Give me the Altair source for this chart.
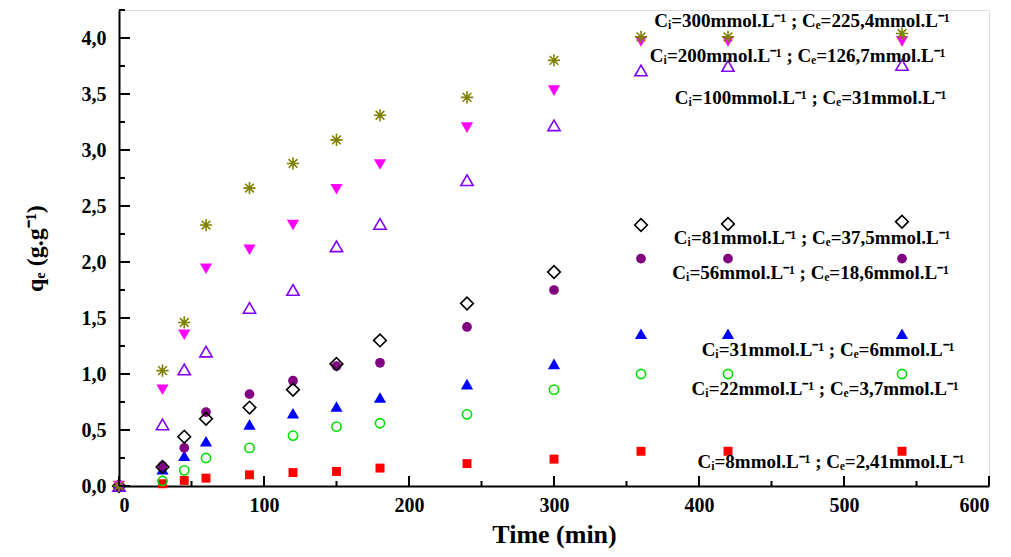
import altair as alt
import pandas as pd

# ---- data ----
time = [0, 30, 45, 60, 90, 120, 150, 180, 240, 300, 360, 420, 540]

q_8 = [0, 0.02, 0.05, 0.07, 0.10, 0.12, 0.13, 0.16, 0.20, 0.24, 0.31, 0.31, 0.31]
q_22 = [0, 0.045, 0.14, 0.25, 0.34, 0.45, 0.53, 0.56, 0.64, 0.86, 1.00, 1.00, 1.00]
q_31 = [0, 0.15, 0.27, 0.40, 0.55, 0.65, 0.71, 0.79, 0.91, 1.09, 1.36, 1.36, 1.36]
q_56 = [0, 0.18, 0.34, 0.66, 0.82, 0.94, 1.07, 1.10, 1.42, 1.75, 2.03, 2.03, 2.03]
q_81 = [0, 0.17, 0.44, 0.60, 0.70, 0.86, 1.09, 1.30, 1.63, 1.91, 2.33, 2.34, 2.36]
q_100 = [0, 0.55, 1.04, 1.20, 1.59, 1.75, 2.14, 2.34, 2.73, 3.22, 3.71, 3.75, 3.76]
q_200 = [0, 0.86, 1.35, 1.94, 2.11, 2.33, 2.65, 2.87, 3.20, 3.53, 3.97, 3.97, 3.97]
q_300 = [0, 1.03, 1.46, 2.33, 2.66, 2.88, 3.09, 3.31, 3.47, 3.80, 4.01, 4.01, 4.04]

labels = [
    "Cᵢ=300mmol.L⁻¹ ; Cₑ=225,4mmol.L⁻¹",
    "Cᵢ=200mmol.L⁻¹ ; Cₑ=126,7mmol.L⁻¹",
    "Cᵢ=100mmol.L⁻¹ ; Cₑ=31mmol.L⁻¹",
    "Cᵢ=81mmol.L⁻¹ ; Cₑ=37,5mmol.L⁻¹",
    "Cᵢ=56mmol.L⁻¹ ; Cₑ=18,6mmol.L⁻¹",
    "Cᵢ=31mmol.L⁻¹ ; Cₑ=6mmol.L⁻¹",
    "Cᵢ=22mmol.L⁻¹ ; Cₑ=3,7mmol.L⁻¹",
    "Cᵢ=8mmol.L⁻¹ ; Cₑ=2,41mmol.L⁻¹",
]
label_t = [471, 468, 477, 478, 477, 489, 487, 491]
label_q = [4.15, 3.84, 3.46, 2.21, 1.90, 1.21, 0.87, 0.21]

x_major = [0, 100, 200, 300, 400, 500, 600]
x_minor = [50, 150, 250, 350, 450, 550]
y_major = [0, 0.5, 1.0, 1.5, 2.0, 2.5, 3.0, 3.5, 4.0]
y_minor = [0.25, 0.75, 1.25, 1.75, 2.25, 2.75, 3.25, 3.75, 4.25]

W, H = 870, 476
FONT = "Liberation Serif"

xs = alt.Scale(domain=[0, 600], nice=False, zero=False)
ys = alt.Scale(domain=[0, 4.25], nice=False, zero=False)

x_axis = alt.Axis(values=x_major, format="d", ticks=False, grid=False,
                  labelFont=FONT, labelFontSize=20, labelFontWeight="bold",
                  labelColor="black", labelPadding=9,
                  domainColor="black", domainWidth=2,
                  title="Time (min)", titleFont=FONT, titleFontSize=26,
                  titleFontWeight="bold", titleColor="black", titlePadding=6)
y_axis = alt.Axis(values=y_major,
                  labelExpr="replace(format(datum.value, '.1f'), '.', ',')",
                  ticks=False, grid=False,
                  labelFont=FONT, labelFontSize=20, labelFontWeight="bold",
                  labelColor="black", labelPadding=13,
                  domainColor="black", domainWidth=2,
                  title="qₑ (g.g⁻¹)", titleFont=FONT, titleFontSize=24,
                  titleFontWeight="bold", titleColor="black", titlePadding=34)

X = alt.X("t:Q", scale=xs, axis=x_axis)
Y = alt.Y("q:Q", scale=ys, axis=y_axis)

asterisk = "M-1,0L1,0M0,-1L0,1M-0.71,-0.71L0.71,0.71M-0.71,0.71L0.71,-0.71"

series = [
    (q_8, dict(shape="square", filled=True, color="#ff0000", size=80)),
    (q_22, dict(shape="circle", filled=False, color="#00e000", size=85, strokeWidth=1.6)),
    (q_31, dict(shape="triangle-up", filled=True, color="#0000ff", size=150)),
    (q_56, dict(shape="circle", filled=True, color="#800080", size=95)),
    (q_81, dict(shape="diamond", filled=False, color="black", size=160, strokeWidth=1.6)),
    (q_100, dict(shape="triangle-up", filled=False, color="#8000ff", size=150, strokeWidth=1.6)),
    (q_200, dict(shape="triangle-down", filled=True, color="#ff00ff", size=150)),
    (q_300, dict(shape=asterisk, filled=False, color="#808000", size=150, strokeWidth=1.6)),
]

layers = []
for vals, style in series:
    df = pd.DataFrame({"t": time, "q": vals})
    layers.append(alt.Chart(df).mark_point(opacity=1, **style).encode(x=X, y=Y))

# inward ticks
layers.append(alt.Chart(pd.DataFrame({"t": x_major})).mark_rule(color="black", strokeWidth=2)
              .encode(x=X, y=alt.value(H), y2=alt.value(H - 10)))
layers.append(alt.Chart(pd.DataFrame({"t": x_minor})).mark_rule(color="black", strokeWidth=2)
              .encode(x=X, y=alt.value(H), y2=alt.value(H - 5)))
layers.append(alt.Chart(pd.DataFrame({"q": y_major})).mark_rule(color="black", strokeWidth=2)
              .encode(y=Y, x=alt.value(0), x2=alt.value(11)))
layers.append(alt.Chart(pd.DataFrame({"q": y_minor})).mark_rule(color="black", strokeWidth=2)
              .encode(y=Y, x=alt.value(0), x2=alt.value(6)))

ldf = pd.DataFrame({"t": label_t, "q": label_q, "label": labels})
layers.append(alt.Chart(ldf).mark_text(align="center", baseline="middle", font=FONT,
                                       fontSize=19, fontWeight="bold", color="black")
              .encode(x=X, y=Y, text="label:N"))

chart = alt.layer(*layers).properties(
    width=W, height=H,
    autosize=alt.AutoSizeParams(type="none"),
    padding={"left": 111, "top": 2, "right": 14, "bottom": 63},
).configure_view(stroke=None).configure(background="white")

chart.save("out.html", embed_options={"renderer": "svg", "actions": False})
